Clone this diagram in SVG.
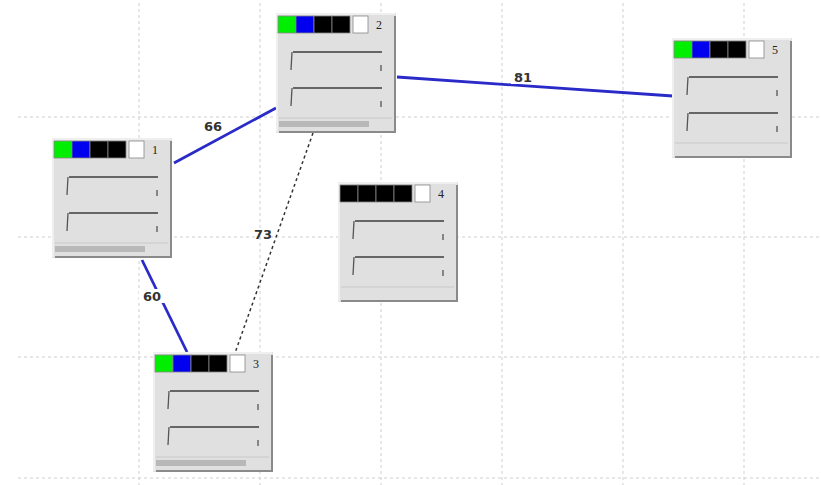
<svg xmlns="http://www.w3.org/2000/svg" xmlns:xlink="http://www.w3.org/1999/xlink" width="821" height="485" viewBox="0 0 821 485">
<style>
.grid{stroke:#cfcfcf;stroke-width:1;stroke-dasharray:3,3;fill:none}
.edge{stroke:#2a2ac8;stroke-width:2.8;fill:none}
.dash{stroke:#333;stroke-width:1.5;stroke-dasharray:3,3;fill:none}
.elabel{font-family:"DejaVu Sans",sans-serif;font-weight:bold;font-size:13px;fill:#333}
.nlabel{font-family:"Liberation Serif",serif;font-size:12px;fill:#222}
.body{fill:#e0e0e0;stroke:none}
.hi{stroke:#f4f4f4;stroke-width:1.5;fill:none}
.sh{stroke:#8a8a8a;stroke-width:2;fill:none}
.row{stroke:#666;stroke-width:2.2;fill:none}
.tick{stroke:#555;stroke-width:1.3;fill:none}
.sq{stroke:#888;stroke-width:0.8}
</style>
<defs>
<g id="frame">
<rect class="body" x="0" y="0" width="120" height="120"/>
<path class="hi" d="M1 119 V1 H119"/>
<path class="sh" d="M119 3 V119 H3"/>
<path class="row" d="M17 39 H106"/>
<path class="tick" d="M16 39 L15 57"/>
<path class="tick" d="M105 52 V58"/>
<path class="row" d="M17 75 H106"/>
<path class="tick" d="M16 75 L15 93"/>
<path class="tick" d="M105 88 V94"/>
<path d="M3 105 H116" stroke="#c8c8c8" stroke-width="1"/>
</g>
<rect id="bar" x="3" y="108" width="90" height="6" fill="#b8b8b8"/>
<g id="hdr">
<rect x="2" y="3" width="18" height="17" fill="#00ee00" class="sq"/>
<rect x="20" y="3" width="18" height="17" fill="#0000ee" class="sq"/>
<rect x="38" y="3" width="18" height="17" fill="#000" class="sq"/>
<rect x="56" y="3" width="18" height="17" fill="#000" class="sq"/>
<rect x="77" y="3" width="15" height="17" fill="#fff" class="sq"/>
</g>
<g id="hdr4">
<rect x="2" y="3" width="18" height="17" fill="#000" class="sq"/>
<rect x="20" y="3" width="18" height="17" fill="#000" class="sq"/>
<rect x="38" y="3" width="18" height="17" fill="#000" class="sq"/>
<rect x="56" y="3" width="18" height="17" fill="#000" class="sq"/>
<rect x="77" y="3" width="15" height="17" fill="#fff" class="sq"/>
</g>
</defs>
<rect width="821" height="485" fill="#fff"/>
<g id="grid">
<path class="grid" d="M139 3 V485 M260 3 V485 M381 3 V485 M502 3 V485 M623 3 V485 M744 3 V485"/>
<path class="grid" d="M18 117 H821 M18 237 H821 M18 357 H821 M18 478 H821"/>
</g>
<g id="connectors">
<line class="edge" x1="174" y1="163" x2="276" y2="108"/>
<line class="edge" x1="397" y1="77" x2="673" y2="96"/>
<line class="edge" x1="142" y1="260" x2="187" y2="352"/>
<line class="dash" x1="313" y1="133" x2="235" y2="353"/>
<rect x="200" y="118" width="26" height="14" fill="#fff"/>
<text class="elabel" x="213" y="131" text-anchor="middle">66</text>
<rect x="511" y="70" width="26" height="14" fill="#fff"/>
<text class="elabel" x="523" y="82" text-anchor="middle">81</text>
<rect x="139" y="289" width="26" height="14" fill="#fff"/>
<text class="elabel" x="152" y="301" text-anchor="middle">60</text>
<text class="elabel" x="263" y="239" text-anchor="middle">73</text>
</g>
<g id="node1" transform="translate(52,138)">
<use xlink:href="#frame"/><use xlink:href="#bar"/><use xlink:href="#hdr"/>
<text class="nlabel" x="100" y="16">1</text>
</g>
<g id="node2" transform="translate(276,13)">
<use xlink:href="#frame"/><use xlink:href="#bar"/><use xlink:href="#hdr"/>
<text class="nlabel" x="100" y="16">2</text>
</g>
<g id="node3" transform="translate(153,352)">
<use xlink:href="#frame"/><use xlink:href="#bar"/><use xlink:href="#hdr"/>
<text class="nlabel" x="100" y="16">3</text>
</g>
<g id="node4" transform="translate(338,182)">
<use xlink:href="#frame"/><use xlink:href="#hdr4"/>
<text class="nlabel" x="100" y="16">4</text>
</g>
<g id="node5" transform="translate(672,38)">
<use xlink:href="#frame"/><use xlink:href="#hdr"/>
<text class="nlabel" x="100" y="16">5</text>
</g>
</svg>
